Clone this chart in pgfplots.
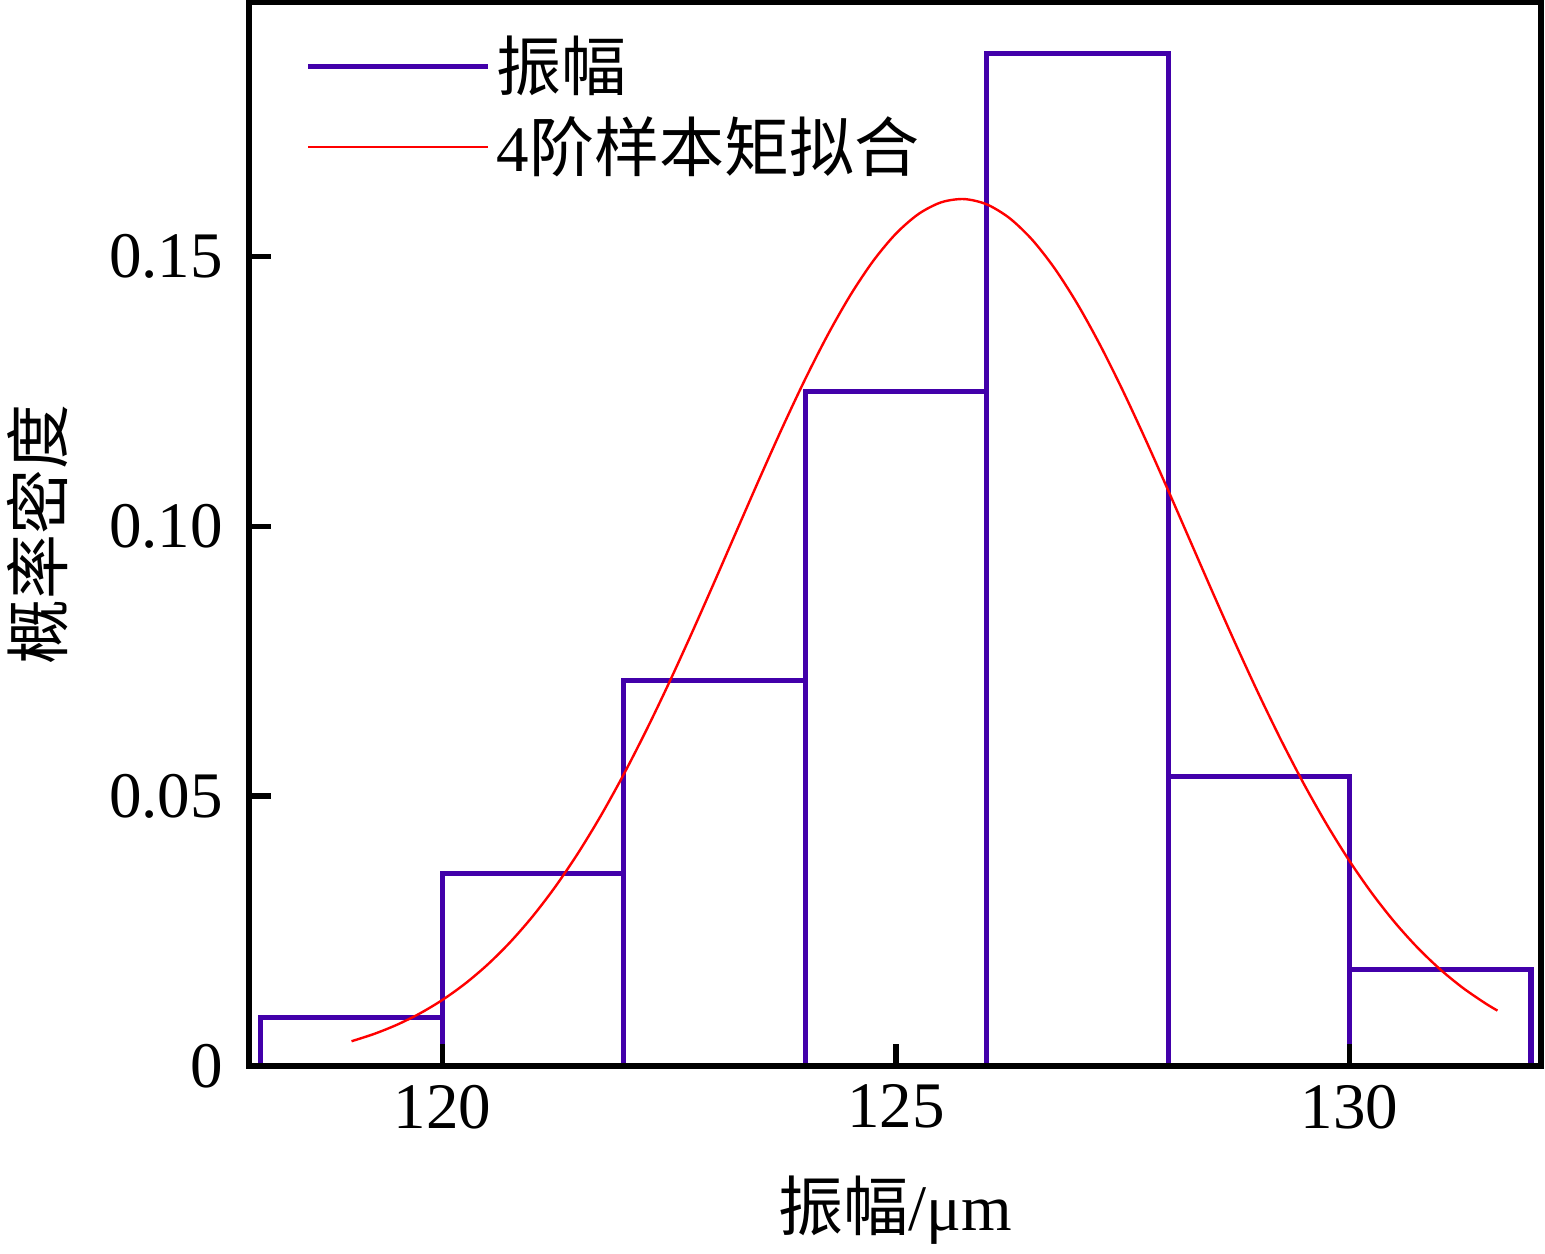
\documentclass[border=0pt]{standalone}
\usepackage{fontspec}
\setmainfont{Liberation Serif}
\newfontfamily\cjk{Noto Sans CJK SC}
\usepackage{pgfplots}
\pgfplotsset{compat=1.18}
\definecolor{barc}{RGB}{66,0,170}
\newcommand{\fs}{\fontsize{16.25}{19.5}\selectfont}
\begin{document}
\begin{tikzpicture}
\useasboundingbox (0,0) rectangle (386.25pt,313.5pt);
\begin{axis}[
  at={(62.25pt,47pt)}, anchor=south west,
  scale only axis, width=323pt, height=265.875pt,
  xmin=117.87, xmax=132.11, ymin=0, ymax=0.197,
  xtick={120,125,130}, xticklabels={120,125,130},
  ytick={0,0.05,0.1,0.15}, yticklabels={0,0.05,0.10,0.15},
  xtick pos=bottom, ytick pos=left, tick align=inside,
  major tick length=5.5pt,
  tick style={line width=1.3pt, black},
  axis line style={line width=1.3pt},
  axis on top,
  /pgf/number format/assume math mode=true,
  every tick label/.append style={font=\fs},
  xticklabel style={yshift=-1.2pt},
  yticklabel style={xshift=-3pt},
  xlabel={{\cjk 振幅}/μm},
  ylabel={\cjk 概率密度},
  every axis x label/.style={at={(axis description cs:0.5,-0.1354)}, anchor=center, font=\fs},
  every axis y label/.style={at={(axis description cs:-0.1638,0.5)}, anchor=center, rotate=90, font=\fs},
  legend style={draw=none, fill=none, at={(axis description cs:0.0433,0.969)}, anchor=north west, inner sep=0pt, row sep=4.9pt, column sep=1.5pt, font=\fs, nodes={inner sep=0pt}},
  legend cell align=left,
]
\addplot[ybar interval, draw=barc, fill=none, line width=1.3pt,
  legend image code/.code={\draw[barc, line width=1.3pt] (0pt,0pt) -- (45pt,0pt);}]
  coordinates {(118,0.008929) (120,0.035714) (122,0.071429) (124,0.125) (126,0.1875) (128,0.053571) (130,0.017857) (132,0)};
\addlegendentry{\cjk 振幅}
\addplot[red, line width=0.6pt, smooth,
  legend image code/.code={\draw[red, line width=0.6pt] (0pt,0pt) -- (45pt,0pt);}]
  coordinates {
(119.00,0.004585) (119.25,0.005946) (119.50,0.007633) (119.75,0.009704)
(120.00,0.012217) (120.25,0.015225) (120.50,0.018790) (120.75,0.022965)
(121.00,0.027793) (121.25,0.033302) (121.50,0.039517) (121.75,0.046428)
(122.00,0.054019) (122.25,0.062228) (122.50,0.070988) (122.75,0.080186)
(123.00,0.089689) (123.25,0.099338) (123.50,0.108945) (123.75,0.118314)
(124.00,0.127226) (124.25,0.135472) (124.50,0.142839) (124.75,0.149132)
(125.00,0.154178) (125.25,0.157831) (125.50,0.159990) (125.75,0.160589)
(126.00,0.159612) (126.25,0.157086) (126.50,0.153087) (126.75,0.147730)
(127.00,0.141163) (127.25,0.133566) (127.50,0.125140) (127.75,0.116098)
(128.00,0.106653) (128.25,0.097019) (128.50,0.087387) (128.75,0.077945)
(129.00,0.068843) (129.25,0.060204) (129.50,0.052136) (129.75,0.044705)
(130.00,0.037959) (130.25,0.031915) (130.50,0.026574) (130.75,0.021905)
(131.00,0.017883) (131.25,0.014454) (131.50,0.011570) (131.63,0.010266)};
\addlegendentry{4{\cjk 阶样本矩拟合}}
\end{axis}
\end{tikzpicture}
\end{document}
